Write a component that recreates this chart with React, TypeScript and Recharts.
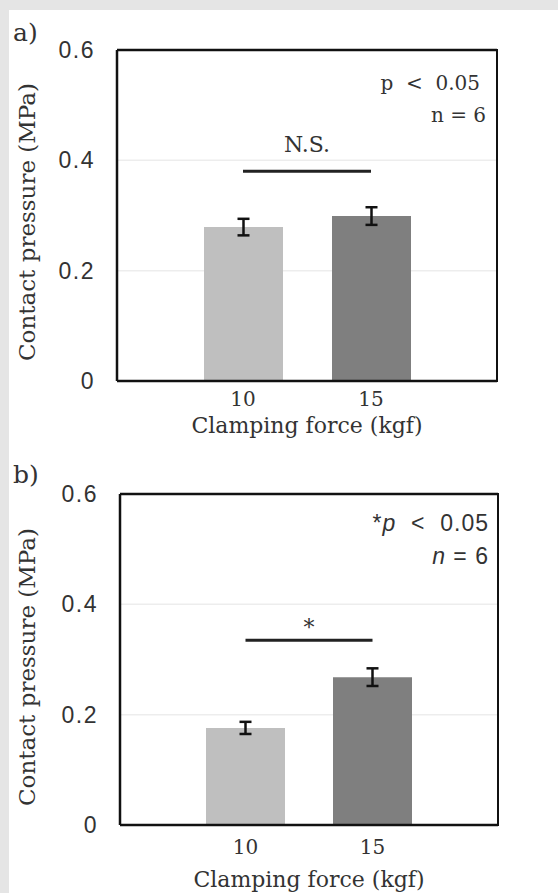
import React from 'react';
import { BarChart, Bar, XAxis, YAxis, CartesianGrid, Cell, ErrorBar, ReferenceLine } from 'recharts';

// data
const categories = ['10', '15'];
const pressureA = [0.279, 0.299];
const errorA = [0.015, 0.016];
const pressureB = [0.176, 0.268];
const errorB = [0.011, 0.016];
const yTicks = [0, 0.2, 0.4, 0.6];
const barColors = ['#bfbfbf', '#7f7f7f'];
const sigLevelA = 0.38;
const sigLevelB = 0.335;

const SERIF = '"DejaVu Serif", serif';
const SANS = '"Liberation Sans", Arial, sans-serif';
const INK = '#333';
const W = 558;
const FRAME = 2.5;

type Box = { left: number; top: number; right: number; bottom: number };

interface PanelProps {
  top: number;
  height: number;
  box: Box;
  values: number[];
  errors: number[];
  sigLevel: number;
  sigLabel: string;
  sigOffset: number;
  tickMargin: number;
  titleY: number;
  yLabelY: number;
  letter: string;
  letterY: number;
  notes: React.ReactNode;
}

const Panel: React.FC<PanelProps> = ({
  top, height, box, values, errors, sigLevel, sigLabel, sigOffset,
  tickMargin, titleY, yLabelY, letter, letterY, notes,
}) => {
  const data = categories.map((c, i) => ({ force: c, pressure: values[i], err: errors[i] }));
  const mid = (box.left + box.right) / 2;
  const frame = { stroke: '#111', strokeWidth: FRAME };

  return (
    <div style={{ position: 'absolute', left: 0, top, width: W, height }}>
      <BarChart
        width={W}
        height={height}
        data={data}
        margin={{ top: box.top, right: W - box.right, left: 0, bottom: 0 }}
        barSize={79}
      >
        <CartesianGrid vertical={false} stroke="#ededed" strokeWidth={1.5} />
        <XAxis
          dataKey="force"
          height={height - box.bottom}
          axisLine={frame}
          tickLine={false}
          tickSize={0}
          tickMargin={tickMargin}
          padding={{ left: 62, right: 62 }}
          tick={{ fill: INK, fontSize: 20, fontFamily: SERIF }}
          label={{
            content: () => (
              <text x={mid} y={titleY} textAnchor="middle" fill={INK} fontSize={22} fontFamily={SERIF}>
                Clamping force (kgf)
              </text>
            ),
          }}
        />
        <YAxis
          domain={[0, 0.6]}
          ticks={yTicks}
          width={box.left}
          axisLine={frame}
          tickLine={false}
          tickSize={0}
          tickMargin={22}
          tickFormatter={(v: number) => (v === 0 ? '0' : v.toFixed(1))}
          tick={{ fill: INK, fontSize: 23, fontFamily: SANS, letterSpacing: 1.5 }}
          label={{
            content: () => (
              <g>
                <text x={13} y={letterY} fill={INK} fontSize={25} fontFamily={SERIF}>{letter}</text>
                <text
                  x={27}
                  y={yLabelY}
                  transform={`rotate(-90, 27, ${yLabelY})`}
                  textAnchor="middle"
                  dominantBaseline="central"
                  fill={INK}
                  fontSize={23}
                  fontFamily={SERIF}
                >
                  Contact pressure (MPa)
                </text>
                {notes}
              </g>
            ),
          }}
        />
        <ReferenceLine y={0.6} stroke="#111" strokeWidth={FRAME} />
        <Bar dataKey="pressure" isAnimationActive={false}>
          {data.map((d, i) => (
            <Cell key={d.force} fill={barColors[i]} />
          ))}
          <ErrorBar dataKey="err" width={6} stroke="#111" strokeWidth={2.5} isAnimationActive={false} />
        </Bar>
        <ReferenceLine
          segment={[{ x: categories[0], y: sigLevel }, { x: categories[1], y: sigLevel }]}
          stroke="#222"
          strokeWidth={3}
          label={{ value: sigLabel, position: 'top', offset: sigOffset, fill: INK, fontSize: 22, fontFamily: SERIF }}
        />
      </BarChart>
      {/* right edge of the plot frame */}
      <div
        style={{
          position: 'absolute',
          left: box.right - FRAME / 2,
          top: box.top - FRAME / 2,
          width: FRAME,
          height: box.bottom - box.top + FRAME,
          background: '#111',
          pointerEvents: 'none',
        }}
      />
    </div>
  );
};

export default function App() {
  return (
    <div style={{ position: 'absolute', left: 0, top: 0, width: W, height: 893, background: '#e5e5e5' }}>
      <div style={{ position: 'absolute', left: 9, top: 10, right: 0, bottom: 0, background: '#fff' }} />
      <Panel
        top={0}
        height={445}
        box={{ left: 117, top: 50, right: 497, bottom: 381 }}
        values={pressureA}
        errors={errorA}
        sigLevel={sigLevelA}
        sigLabel="N.S."
        sigOffset={19}
        tickMargin={11}
        titleY={433}
        yLabelY={222}
        letter="a)"
        letterY={41}
        notes={
          <g fill={INK} fontSize={20} fontFamily={SERIF} textAnchor="end">
            <text x={480} y={90} style={{ whiteSpace: 'pre' }}>p  &lt;  0.05</text>
            <text x={486} y={122}>n = 6</text>
          </g>
        }
      />
      <Panel
        top={445}
        height={448}
        box={{ left: 120, top: 49, right: 498, bottom: 380 }}
        values={pressureB}
        errors={errorB}
        sigLevel={sigLevelB}
        sigLabel="*"
        sigOffset={5}
        tickMargin={15}
        titleY={442}
        yLabelY={222}
        letter="b)"
        letterY={38}
        notes={
          <g fill={INK} fontSize={23} fontFamily={SANS} textAnchor="end" letterSpacing={1}>
            <text x={489} y={86} style={{ whiteSpace: 'pre' }}>
              *<tspan fontStyle="italic">p</tspan>  &lt;  0.05
            </text>
            <text x={489} y={119}>
              <tspan fontStyle="italic">n</tspan> = 6
            </text>
          </g>
        }
      />
    </div>
  );
}
